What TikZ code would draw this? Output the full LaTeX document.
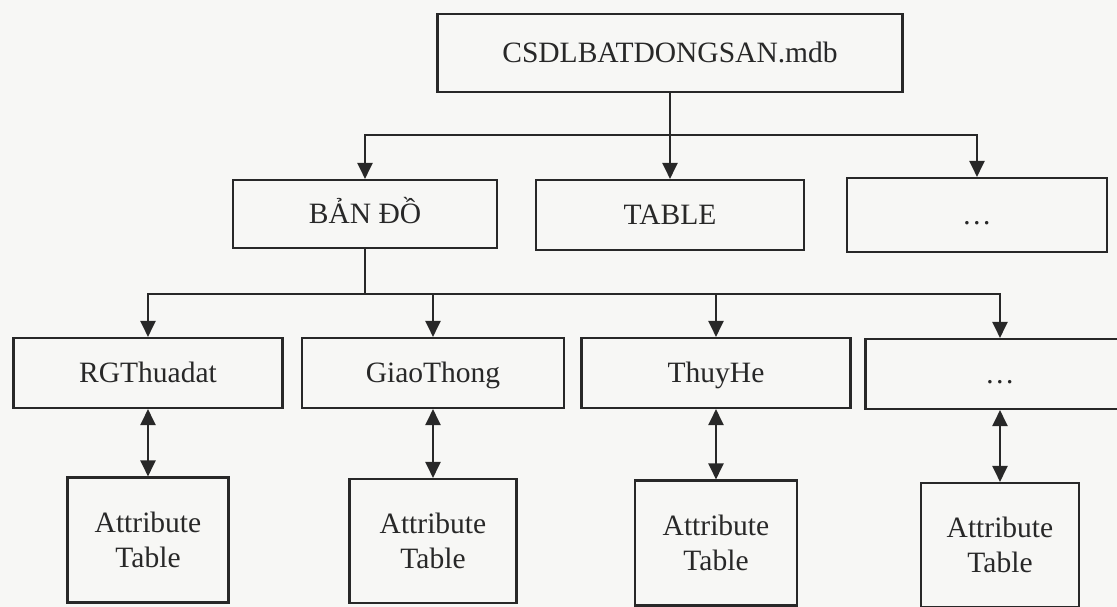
\documentclass[tikz,border=0pt]{standalone}
\usepackage{fontspec}
\setmainfont{Liberation Serif}
\usetikzlibrary{arrows.meta}
\definecolor{ink}{RGB}{40,40,40}
\definecolor{paper}{RGB}{247,247,245}

\begin{document}
\begin{tikzpicture}[x=0.02cm,y=-0.02cm,line width=1.2pt,color=ink,
    tip/.style={-{Triangle[length=0.32cm,width=0.3cm]}},
    twotip/.style={{Triangle[length=0.32cm,width=0.3cm]}-{Triangle[length=0.32cm,width=0.3cm]}},
    oneline/.style={text height=12pt,text depth=1pt}]

        \useasboundingbox (0,0) rectangle (1117,607);
        \fill[paper] (0,0) rectangle (1117,607);

        \begin{scope}[every node/.style={draw,fill=paper,inner sep=0pt,align=center,
            font=\fontsize{16.8}{20}\selectfont}]
          \node[oneline,minimum width=9.3cm,minimum height=1.56cm]  (db)    at (670,53)   {CSDLBATDONGSAN.mdb};
          \node[oneline,minimum width=5.28cm,minimum height=1.36cm] (bando) at (365,214)  {BẢN ĐỒ};
          \node[oneline,minimum width=5.36cm,minimum height=1.4cm]  (table) at (670,215)  {TABLE};
          \node[oneline,minimum width=5.2cm,minimum height=1.48cm]  (more1) at (977,215)  {\dots};
          \node[oneline,minimum width=5.38cm,minimum height=1.4cm]  (rg)    at (148,373)  {RGThuadat};
          \node[oneline,minimum width=5.24cm,minimum height=1.4cm]  (giao)  at (433,373)  {GiaoThong};
          \node[oneline,minimum width=5.38cm,minimum height=1.4cm]  (thuy)  at (716,373)  {ThuyHe};
          \node[oneline,minimum width=5.38cm,minimum height=1.4cm]  (more2) at (1000,374) {\dots};
          \node[minimum width=3.22cm,minimum height=2.5cm]  (att1)  at (148,540)  {Attribute\\Table};
          \node[minimum width=3.34cm,minimum height=2.48cm] (att2)  at (433,541)  {Attribute\\Table};
          \node[minimum width=3.24cm,minimum height=2.5cm]  (att3)  at (716,543)  {Attribute\\Table};
          \node[minimum width=3.16cm,minimum height=2.48cm] (att4)  at (1000,545) {Attribute\\Table};
        \end{scope}

        \coordinate (bus1) at (670,135);
        \coordinate (bus2) at (365,294);

        \draw (db) -- (bus1);
        \draw[tip] (bus1) -| (bando);
        \draw[tip] (bus1) -- (table);
        \draw[tip] (bus1) -| (more1);

        \draw (bando) -- (bus2);
        \draw[tip] (bus2) -| (rg);
        \draw[tip] (bus2) -| (giao);
        \draw[tip] (bus2) -| (thuy);
        \draw[tip] (bus2) -| (more2);

        \draw[twotip] (rg)    -- (att1);
        \draw[twotip] (giao)  -- (att2);
        \draw[twotip] (thuy)  -- (att3);
        \draw[twotip] (more2) -- (att4);

      \end{tikzpicture}
\end{document}
